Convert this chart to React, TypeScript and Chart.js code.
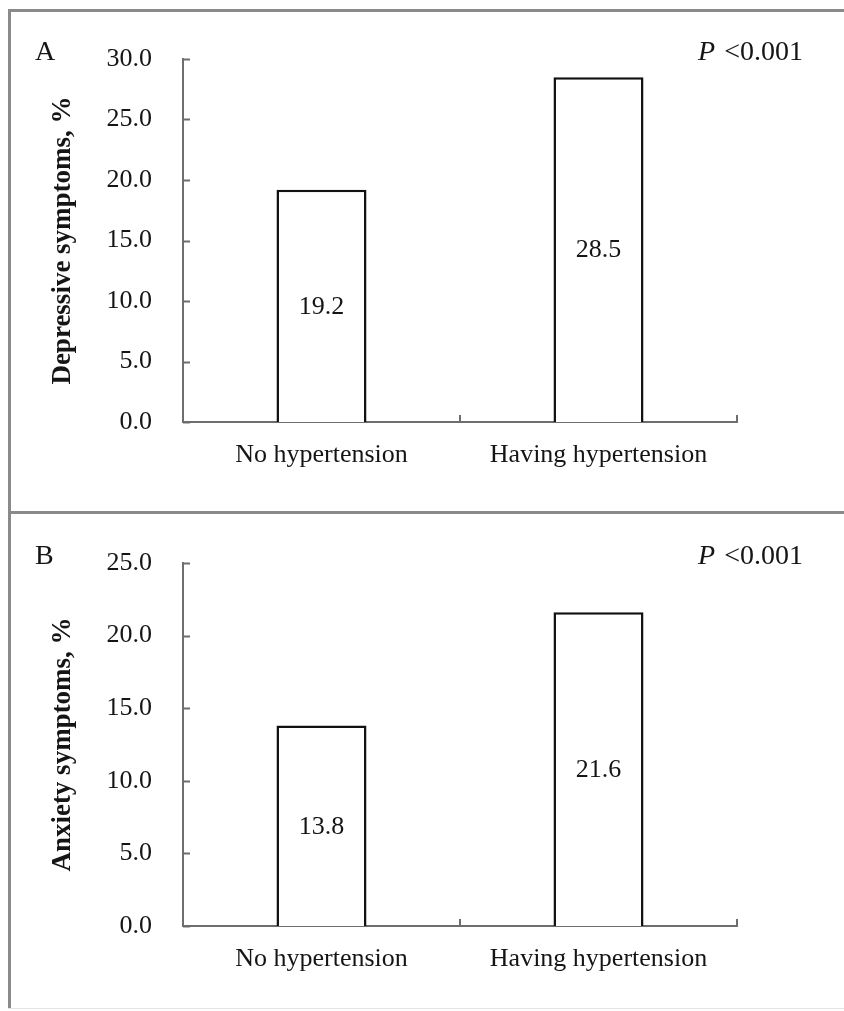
import React, { useEffect, useRef } from "react";
import { Chart, registerables } from "chart.js";

Chart.register(...registerables);

// ---- data ----
const categories = ["No hypertension", "Having hypertension"];
const depressiveValues = [19.2, 28.5];
const anxietyValues = [13.8, 21.6];
const depressiveTitle = "Depressive symptoms, %";
const anxietyTitle = "Anxiety symptoms, %";
const panelLetters = ["A", "B"];
const pValueItalic = "P";
const pValueRest = " <0.001";
const yMaxA = 30;
const yMaxB = 25;
const yStep = 5;

const FONT = "'Liberation Serif', 'Times New Roman', Times, serif";
const TEXT = "#151515";
const AXIS = "#6e6e6e";
const FRAME = "#8a8a8a";

type PanelProps = {
  top: number;
  height: number;
  areaTop: number;
  areaBottom: number;
  values: number[];
  yMax: number;
  title: string;
  letter: string;
};

function Panel({ top, height, areaTop, areaBottom, values, yMax, title, letter }: PanelProps) {
  const ref = useRef<HTMLCanvasElement | null>(null);

  useEffect(() => {
    if (!ref.current) return;
    const overlay = {
      id: "overlay",
      afterDatasetsDraw(chart: any) {
        const { ctx, chartArea, scales } = chart;
        const y = scales.y;
        ctx.save();
        ctx.strokeStyle = AXIS;
        ctx.lineWidth = 2;
        // inside tick marks on y axis
        y.ticks.forEach((_t: any, i: number) => {
          const py = Math.round(y.getPixelForTick(i)) + 0.5;
          ctx.beginPath();
          ctx.moveTo(chartArea.left, py);
          ctx.lineTo(chartArea.left + 7, py);
          ctx.stroke();
        });
        // category boundary tick marks on x axis
        const n = categories.length;
        for (let i = 1; i <= n; i++) {
          const px = Math.round(chartArea.left + ((chartArea.right - chartArea.left) * i) / n);
          ctx.beginPath();
          ctx.moveTo(px, chartArea.bottom);
          ctx.lineTo(px, chartArea.bottom - 7);
          ctx.stroke();
        }
        // value labels at bar centres
        ctx.fillStyle = TEXT;
        ctx.font = `26px ${FONT}`;
        ctx.textAlign = "center";
        ctx.textBaseline = "middle";
        const meta = chart.getDatasetMeta(0);
        meta.data.forEach((bar: any, i: number) => {
          ctx.fillText(values[i].toFixed(1), bar.x, (bar.y + bar.base) / 2 + 1);
        });
        // panel letter
        ctx.textAlign = "left";
        ctx.font = `28px ${FONT}`;
        ctx.fillText(letter, 35, chartArea.top - 6);
        // p value
        ctx.font = `italic 28px ${FONT}`;
        const wP = ctx.measureText(pValueItalic).width;
        ctx.font = `28px ${FONT}`;
        const wR = ctx.measureText(pValueRest).width;
        const startX = 803 - wP - wR - 2;
        ctx.font = `italic 28px ${FONT}`;
        ctx.fillText(pValueItalic, startX, chartArea.top - 6);
        ctx.font = `28px ${FONT}`;
        ctx.fillText(pValueRest, startX + wP + 2, chartArea.top - 6);
        ctx.restore();
      },
    };

    const chart = new Chart(ref.current, {
      type: "bar",
      data: {
        labels: categories,
        datasets: [
          {
            data: values,
            backgroundColor: "#ffffff",
            borderColor: "#111111",
            borderWidth: 2.5,
            borderSkipped: "bottom",
            categoryPercentage: 1,
            barPercentage: 0.325,
          },
        ],
      },
      options: {
        responsive: false,
        animation: false,
        devicePixelRatio: 1,
        layout: { padding: { top: areaTop, right: 107, left: 0, bottom: 0 } },
        plugins: { legend: { display: false }, tooltip: { enabled: false } },
        scales: {
          x: {
            offset: true,
            grid: { display: false, drawTicks: false },
            border: { display: true, color: AXIS, width: 2 },
            ticks: {
              color: TEXT,
              font: { family: FONT, size: 26 },
              padding: 18,
              maxRotation: 0,
              autoSkip: false,
            },
            afterFit(scale: any) {
              scale.height = height - areaBottom;
            },
          },
          y: {
            min: 0,
            max: yMax,
            grid: { display: false, drawTicks: false },
            border: { display: true, color: AXIS, width: 2 },
            ticks: {
              stepSize: yStep,
              color: TEXT,
              font: { family: FONT, size: 26 },
              padding: 31,
              callback: (v: any) => Number(v).toFixed(1),
            },
            title: {
              display: true,
              text: title,
              color: TEXT,
              font: { family: FONT, size: 27, weight: "bold", lineHeight: 1.2 },
              padding: { top: 47, bottom: 0 },
            },
            afterFit(scale: any) {
              scale.width = 183;
            },
          },
        },
      },
      plugins: [overlay],
    } as any);
    return () => chart.destroy();
  }, []);

  return (
    <canvas
      ref={ref}
      width={844}
      height={height}
      style={{ position: "absolute", left: 0, top, width: 844, height }}
    />
  );
}

export default function App() {
  return (
    <div
      style={{
        position: "absolute",
        left: 0,
        top: 0,
        width: 844,
        height: 1011,
        background: "#ffffff",
        overflow: "hidden",
      }}
    >
      <Panel
        top={10}
        height={502}
        areaTop={49}
        areaBottom={412}
        values={depressiveValues}
        yMax={yMaxA}
        title={depressiveTitle}
        letter={panelLetters[0]}
      />
      <Panel
        top={512}
        height={499}
        areaTop={51}
        areaBottom={414}
        values={anxietyValues}
        yMax={yMaxB}
        title={anxietyTitle}
        letter={panelLetters[1]}
      />
      {/* frame */}
      <div style={{ position: "absolute", left: 8, top: 9, width: 3, height: 1000, background: FRAME }} />
      <div style={{ position: "absolute", left: 8, top: 9, width: 836, height: 3, background: FRAME }} />
      <div style={{ position: "absolute", left: 8, top: 511, width: 836, height: 3, background: FRAME }} />
      <div style={{ position: "absolute", left: 8, top: 1008, width: 836, height: 1, background: "#e4e4e4" }} />
    </div>
  );
}
